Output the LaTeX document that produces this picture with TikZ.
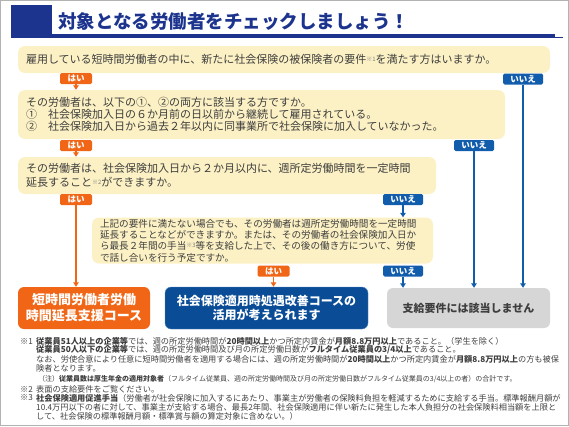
\documentclass[tikz,border=0pt]{standalone}
\usepackage{fontspec}
\setmainfont{Noto Sans CJK JP}
\usetikzlibrary{arrows.meta}
\definecolor{titleblue}{RGB}{28,52,142}
\definecolor{qyellow}{RGB}{252,241,196}
\definecolor{haiorange}{RGB}{240,102,22}
\definecolor{iieblue}{RGB}{18,92,172}
\definecolor{resblue}{RGB}{10,76,150}
\definecolor{resgray}{RGB}{214,214,214}
\definecolor{txtgray}{RGB}{62,62,62}
\newcommand{\kome}[1]{{\color{gray}\fontsize{6}{6}\selectfont\raisebox{2.5pt}{※#1}}}

\begin{document}
\begin{tikzpicture}[x=1pt,y=-1pt,
  qbox/.style={fill=qyellow, rounded corners=7pt, text=txtgray, align=left,
    inner xsep=8pt, inner ysep=0pt, font=\fontsize{11}{12.3}\selectfont},
  result/.style={rounded corners=6pt, align=center, inner sep=0pt, minimum height=42pt},
  haitag/.style={fill=haiorange, text=white, rounded corners=1.5pt, inner sep=0pt,
    minimum width=32pt, minimum height=11pt, font=\fontsize{8.5}{8.5}\selectfont\bfseries},
  iietag/.style={haitag, fill=iieblue, minimum width=40pt},
  haiarrow/.style={draw=haiorange, line width=1.3pt, -{Triangle[width=5.5pt,length=4.5pt]}},
  iiearrow/.style={haiarrow, draw=iieblue},
  note/.style={anchor=west, inner sep=0pt, text=txtgray, font=\fontsize{8.2}{9}\selectfont}]
\useasboundingbox (0,0) rectangle (569,426);
\draw[gray!60] (0.5,0.5) rectangle (568.5,425.5);

\fill[titleblue] (11,5) rectangle (52,38);
\fill[titleblue] (52,34) rectangle (555,38);
\fill[titleblue] (555,37) rectangle (563,38);
\node[anchor=west, inner sep=0pt, text=titleblue, font=\fontsize{18.5}{18.5}\selectfont\bfseries] (title) at (58,22) {対象となる労働者をチェックしましょう！};

\node[qbox, text width=516pt, minimum height=27pt] (q1) at (284,59.5) {雇用している短時間労働者の中に、新たに社会保険の被保険者の要件\kome{1}を満たす方はいますか。};
\node[qbox, text width=471pt, minimum height=49pt] (q2) at (261.5,114.5) {その労働者は、以下の①、②の両方に該当する方ですか。\\①\quad 社会保険加入日の６か月前の日以前から継続して雇用されている。\\②\quad 社会保険加入日から過去２年以内に同事業所で社会保険に加入していなかった。};
\node[qbox, text width=402pt, minimum height=37pt, font=\fontsize{11}{14.5}\selectfont] (q3) at (227,175.5) {その労働者は、社会保険加入日から２か月以内に、週所定労働時間を一定時間\\延長すること\kome{2}ができますか。};
\node[qbox, text width=325pt, minimum height=46pt, font=\fontsize{9.6}{11.4}\selectfont] (q4) at (262.5,240.5) {上記の要件に満たない場合でも、その労働者は週所定労働時間を一定時間\\延長することなどができますか。または、その労働者の社会保険加入日か\\ら最長２年間の手当\kome{3}等を支給した上で、その後の働き方について、労使\\で話し合いを行う予定ですか。};

\node[result, fill=haiorange, minimum width=132pt, text=white, font=\fontsize{13}{16}\selectfont\bfseries] (rorange) at (84,308) {短時間労働者労働\\時間延長支援コース};
\node[result, fill=resblue, draw=iieblue!70, minimum width=203pt, text=white, font=\fontsize{12}{14}\selectfont\bfseries] (rblue) at (266.5,308) {社会保険適用時処遇改善コースの\\活用が考えられます};
\node[result, fill=resgray, minimum width=163pt, minimum height=40pt, text=txtgray, font=\fontsize{11}{13}\selectfont\bfseries] (rgray) at (468.5,308) {支給要件には該当しません};

\node[haitag] (hai1) at (76,78.5) {はい};
\node[iietag] (iie1) at (523,79) {いいえ};
\node[haitag] (hai2) at (76,145.5) {はい};
\node[iietag] (iie2) at (474,145.5) {いいえ};
\node[haitag] (hai3) at (76,199.5) {はい};
\node[iietag] (iie3) at (403,199.5) {いいえ};
\node[haitag] (hai4) at (273.5,271) {はい};
\node[iietag] (iie4) at (403,271) {いいえ};

\draw[haiarrow] (hai1) -- (hai1 |- q2.north);
\draw[haiarrow] (hai2) -- (hai2 |- q3.north);
\draw[haiarrow] (hai3) -- (hai3 |- rorange.north);
\draw[haiarrow] (hai4) -- (hai4 |- rblue.north);
\draw[iiearrow] (iie3) -- (iie3 |- q4.north);
\draw[iiearrow] (iie4) -- (iie4 |- rgray.north);
\draw[iiearrow] (iie2) -- (iie2 |- rgray.north);
\draw[iiearrow] (iie1) -- (iie1 |- rgray.north);

\node[note] (m1) at (20,341) {※1};
\node[note] (n1a) at (36,341) {\textbf{従業員51人以上の企業等}では、週の所定労働時間が\textbf{20時間以上}かつ所定内賃金が\textbf{月額8.8万円以上}であること。（学生を除く）};
\node[note] (n1b) at (36,350) {\textbf{従業員50人以下の企業等}では、週の所定労働時間及び月の所定労働日数が\textbf{フルタイム従業員の3/4以上}であること。};
\node[note] (n1c) at (36,359) {なお、労使合意により任意に短時間労働者を適用する場合には、週の所定労働時間が\textbf{20時間以上}かつ所定内賃金が\textbf{月額8.8万円以上}の方も被保};
\node[note] (n1d) at (36,368) {険者となります。};
\node[note, font=\fontsize{7}{7}\selectfont] (n1e) at (38,379.5) {（注）\textbf{従業員数は厚生年金の適用対象者}（フルタイム従業員、週の所定労働時間及び月の所定労働日数がフルタイム従業員の3/4以上の者）の合計です。};
\node[note] (m2) at (20,389) {※2};
\node[note] (n2) at (36,389) {表面の支給要件をご覧ください。};
\node[note] (m3) at (20,398) {※3};
\node[note] (n3a) at (36,398) {\textbf{社会保険適用促進手当}（労働者が社会保険に加入するにあたり、事業主が労働者の保険料負担を軽減するために支給する手当。標準報酬月額が};
\node[note] (n3b) at (36,407) {10.4万円以下の者に対して、事業主が支給する場合、最長2年間、社会保険適用に伴い新たに発生した本人負担分の社会保険料相当額を上限と};
\node[note] (n3c) at (36,416) {して、社会保険の標準報酬月額・標準賞与額の算定対象に含めない。）};
\end{tikzpicture}
\end{document}
